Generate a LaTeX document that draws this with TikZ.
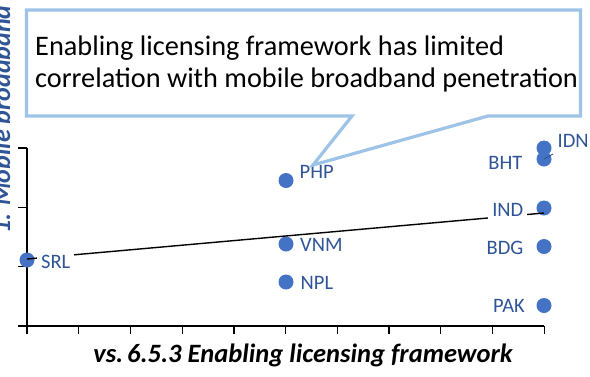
\documentclass[tikz,border=0pt]{standalone}
\usepackage{fontspec}
\setmainfont{Carlito}
\definecolor{ptblue}{HTML}{4472C4}
\definecolor{lblblue}{HTML}{2F5597}
\definecolor{calloutblue}{HTML}{9DC3E6}
\begin{document}
\begin{tikzpicture}[x=1pt,y=-1pt,
  pt/.style={circle,fill=ptblue,inner sep=0pt,minimum size=15pt},
  lbl/.style={text=lblblue,font=\fontsize{20.5}{24}\selectfont,fill=white,inner xsep=4pt,inner ysep=3pt},
  axis/.style={line width=1.3pt,black},
  trend/.style={line width=1.4pt,black},
  callout/.style={draw=calloutblue,line width=3.2pt,fill=white,line join=miter},
  ctext/.style={font=\fontsize{28.3}{32}\selectfont,inner sep=0pt}]
\useasboundingbox (0,0) rectangle (590,376);
% y-axis title (cut off at left in the reference)
\node[anchor=base west,rotate=90,inner sep=0pt,text=lblblue,font=\fontsize{26}{30}\selectfont\bfseries\itshape] (ytitle) at (10,234) {1. Mobile broadband penetration};
% axes
\draw[axis] (27,148) -- (27,326) -- (544,326);
\foreach \yy in {148,207.3,266.7,326} \draw[axis] (18,\yy) -- (27,\yy);
\foreach \k in {0,...,10} \draw[axis] ({27+\k*51.73},326) -- ({27+\k*51.73},334);
% x-axis title
\node[anchor=base,inner sep=0pt,font=\fontsize{26.5}{30}\selectfont\bfseries\itshape] (xtitle) at (303,362) {vs.\kern-2pt\ 6.5.3 Enabling licensing framework};
% points
\node[pt] (SRL) at (27,260) {};
\node[pt] (PHP) at (286,180.5) {};
\node[pt] (VNM) at (286,244) {};
\node[pt] (NPL) at (286,282) {};
\node[pt] (IDN) at (544,148) {};
\node[pt] (BHT) at (544,159) {};
\node[pt] (IND) at (544,208) {};
\node[pt] (BDG) at (544,246.5) {};
\node[pt] (PAK) at (544,305.5) {};
% trend line
\coordinate (t0) at (27,259);
\coordinate (t1) at (544,213);
\draw[trend] (t0) -- (t1);
% labels
\node[lbl,anchor=base west] (lSRL) at (37,268.3) {SRL};
\node[lbl,anchor=base west] (lPHP) at (295.5,178.5) {PHP};
\node[lbl,anchor=base west] (lVNM) at (296,251.7) {VNM};
\node[lbl,anchor=base west] (lNPL) at (296.5,289.3) {NPL};
\node[lbl,anchor=base east] (lIND) at (527.5,216) {IND};
\node[lbl,anchor=base east] (lBDG) at (527.5,254) {BDG};
\node[lbl,anchor=base east] (lPAK) at (529,312.7) {PAK};
\node[lbl,anchor=base east] (lBHT) at (526.5,169.3) {BHT};
\node[lbl,anchor=base west,fill=none] (lIDN) at (553.5,147.7) {IDN};
\coordinate (idnlead) at (553,154);
\draw[line width=0.9pt,lblblue] (BHT.center) -- (idnlead);
% callout
\draw[callout] (26.5,10) -- (580.5,10) -- (580.5,116) -- (488,116) -- (313,165) -- (352,116) -- (26.5,116) -- cycle;
\node[ctext,anchor=base west] (c1) at (35,55) {Enabling licensing framework has limited};
\node[ctext,anchor=base west] (c2) at (35,87.3) {correlation with mobile broadband penetration};
\end{tikzpicture}
\end{document}
